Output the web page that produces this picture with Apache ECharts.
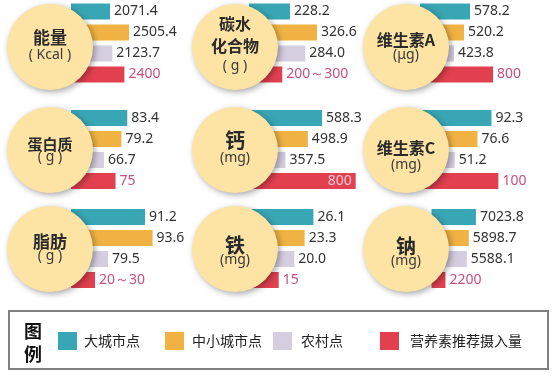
<!DOCTYPE html>
<html><head><meta charset="utf-8">
<script src="https://cdn.jsdelivr.net/npm/echarts@6/dist/echarts.min.js"></script>
<style>html,body{margin:0;padding:0;background:#fff}#c{width:555px;height:379px}</style>
</head><body><div id="c"></div>
<script>
// ---- data ----
const groups = ['大城市点', '中小城市点', '农村点', '营养素推荐摄入量'];
const nutrients = ['能量', '碳水\n化合物', '维生素A', '蛋白质', '钙', '维生素C', '脂肪', '铁', '钠'];
const units = ['( Kcal )', '( g )', '(μg)', '( g )', '(mg)', '(mg)', '( g )', '(mg)', '(mg)'];
const bigCity = [2071.4, 228.2, 578.2, 83.4, 588.3, 92.3, 91.2, 26.1, 7023.8];
const smallCity = [2505.4, 326.6, 520.2, 79.2, 498.9, 76.6, 93.6, 23.3, 5898.7];
const rural = [2123.7, 284.0, 423.8, 66.7, 357.5, 51.2, 79.5, 20.0, 5588.1];
const recommended = [2400, 200, 800, 75, 800, 100, 20, 15, 2200];
const recommendedText = ['2400', '200～300', '800', '75', '800', '100', '20～30', '15', '2200'];

// ---- scale / layout (not data) ----
const axisMin = [1181, 78.6, 97.4, 43.1, 128, 12.4, 12.4, 5.5, -1824];
const axisMax = [4149, 553, 1347, 136.2, 947, 157.7, 108.9, 47.1, 18746];
const axisBreaks = [null, null, null, null, null, null, [{start: 22, end: 77.4, gap: 0}], null, null];
const colLeft = [71, 249, 420];
const circleX = [50, 235, 406];
const rowTop = [1, 107.5, 206.5];
const circleY = [47, 150, 249];
const titleDy = [-9, -12.5, -7, -6, -10, -2, -7, -4, -3];
const unitDy = [8, 19, 8, 7, 8, 15, 7, 11, 12];
const titleSize = [17, 16, 16, 15, 20, 16, 17, 20, 20];
const colors = ['#38a6b4', '#f0b343', '#d4cee0', '#e2404f'];
const legendSquareX = [58, 165, 273, 380];
const legendTextX = [84, 192, 301, 410];

const chart = echarts.init(document.getElementById('c'), null, {renderer: 'canvas'});
const grids = [], xAxes = [], yAxes = [], series = [], graphics = [];

for (let i = 0; i < 9; i++) {
  const col = i % 3, row = Math.floor(i / 3);
  grids.push({left: colLeft[col], top: rowTop[row], width: 130, height: 84, containLabel: false});
  const xa = {gridIndex: i, type: 'value', min: axisMin[i], max: axisMax[i], show: false};
  if (axisBreaks[i]) { xa.breaks = axisBreaks[i]; xa.breakArea = {show: false}; }
  xAxes.push(xa);
  yAxes.push({gridIndex: i, type: 'category', data: groups, inverse: true, show: false});
  const vals = [bigCity[i], smallCity[i], rural[i], recommended[i]];
  series.push({
    type: 'bar', xAxisIndex: i, yAxisIndex: i, barWidth: 16, z: 2,
    data: vals.map((v, k) => {
      const inside = (i === 4 && k === 3);
      return {
        value: v,
        itemStyle: {color: colors[k]},
        label: {
          show: true,
          position: inside ? 'insideRight' : 'right',
          distance: 4,
          color: k === 3 ? (inside ? '#f7c6d2' : '#c64f80') : '#333',
          fontSize: 14,
          fontFamily: 'Noto Sans',
          formatter: k === 3 ? recommendedText[i] : v.toFixed(1)
        }
      };
    })
  });
  graphics.push({
    type: 'circle', z: 50,
    shape: {cx: circleX[col], cy: circleY[row], r: 43},
    style: {fill: '#fde3a4', shadowColor: 'rgba(0,0,0,0.35)', shadowBlur: 6, shadowOffsetX: 2, shadowOffsetY: 2}
  });
  graphics.push({
    type: 'text', z: 51,
    x: circleX[col], y: circleY[row] + titleDy[i],
    style: {text: nutrients[i], align: 'center', verticalAlign: 'middle', fill: '#2a2a2a',
      fontSize: titleSize[i], fontWeight: 'bold', fontFamily: 'Noto Sans CJK SC', lineHeight: 22}
  });
  graphics.push({
    type: 'text', z: 51,
    x: circleX[col], y: circleY[row] + unitDy[i],
    style: {text: units[i], align: 'center', verticalAlign: 'middle', fill: '#3a3a3a',
      fontSize: 14, fontFamily: 'Noto Sans'}
  });
}

// legend box
graphics.push({type: 'rect', z: 40, shape: {x: 9, y: 311, width: 539, height: 58},
  style: {fill: '#fff', stroke: '#808080', lineWidth: 2}});
graphics.push({type: 'text', z: 41, x: 33, y: 331, style: {text: '图', align: 'center', verticalAlign: 'middle',
  fontSize: 18, fontWeight: 'bold', fill: '#111', fontFamily: 'Noto Sans CJK SC'}});
graphics.push({type: 'text', z: 41, x: 33, y: 354, style: {text: '例', align: 'center', verticalAlign: 'middle',
  fontSize: 18, fontWeight: 'bold', fill: '#111', fontFamily: 'Noto Sans CJK SC'}});
groups.forEach((g, k) => {
  graphics.push({type: 'rect', z: 41, shape: {x: legendSquareX[k], y: 332, width: 19, height: 18},
    style: {fill: colors[k]}});
  graphics.push({type: 'text', z: 41, x: legendTextX[k], y: 341, style: {text: g, verticalAlign: 'middle',
    fontSize: 14, fill: '#222', fontFamily: 'Noto Sans CJK SC'}});
});

chart.setOption({
  backgroundColor: '#fff',
  animation: false,
  grid: grids, xAxis: xAxes, yAxis: yAxes, series: series,
  graphic: {elements: graphics}
});
</script></body></html>
